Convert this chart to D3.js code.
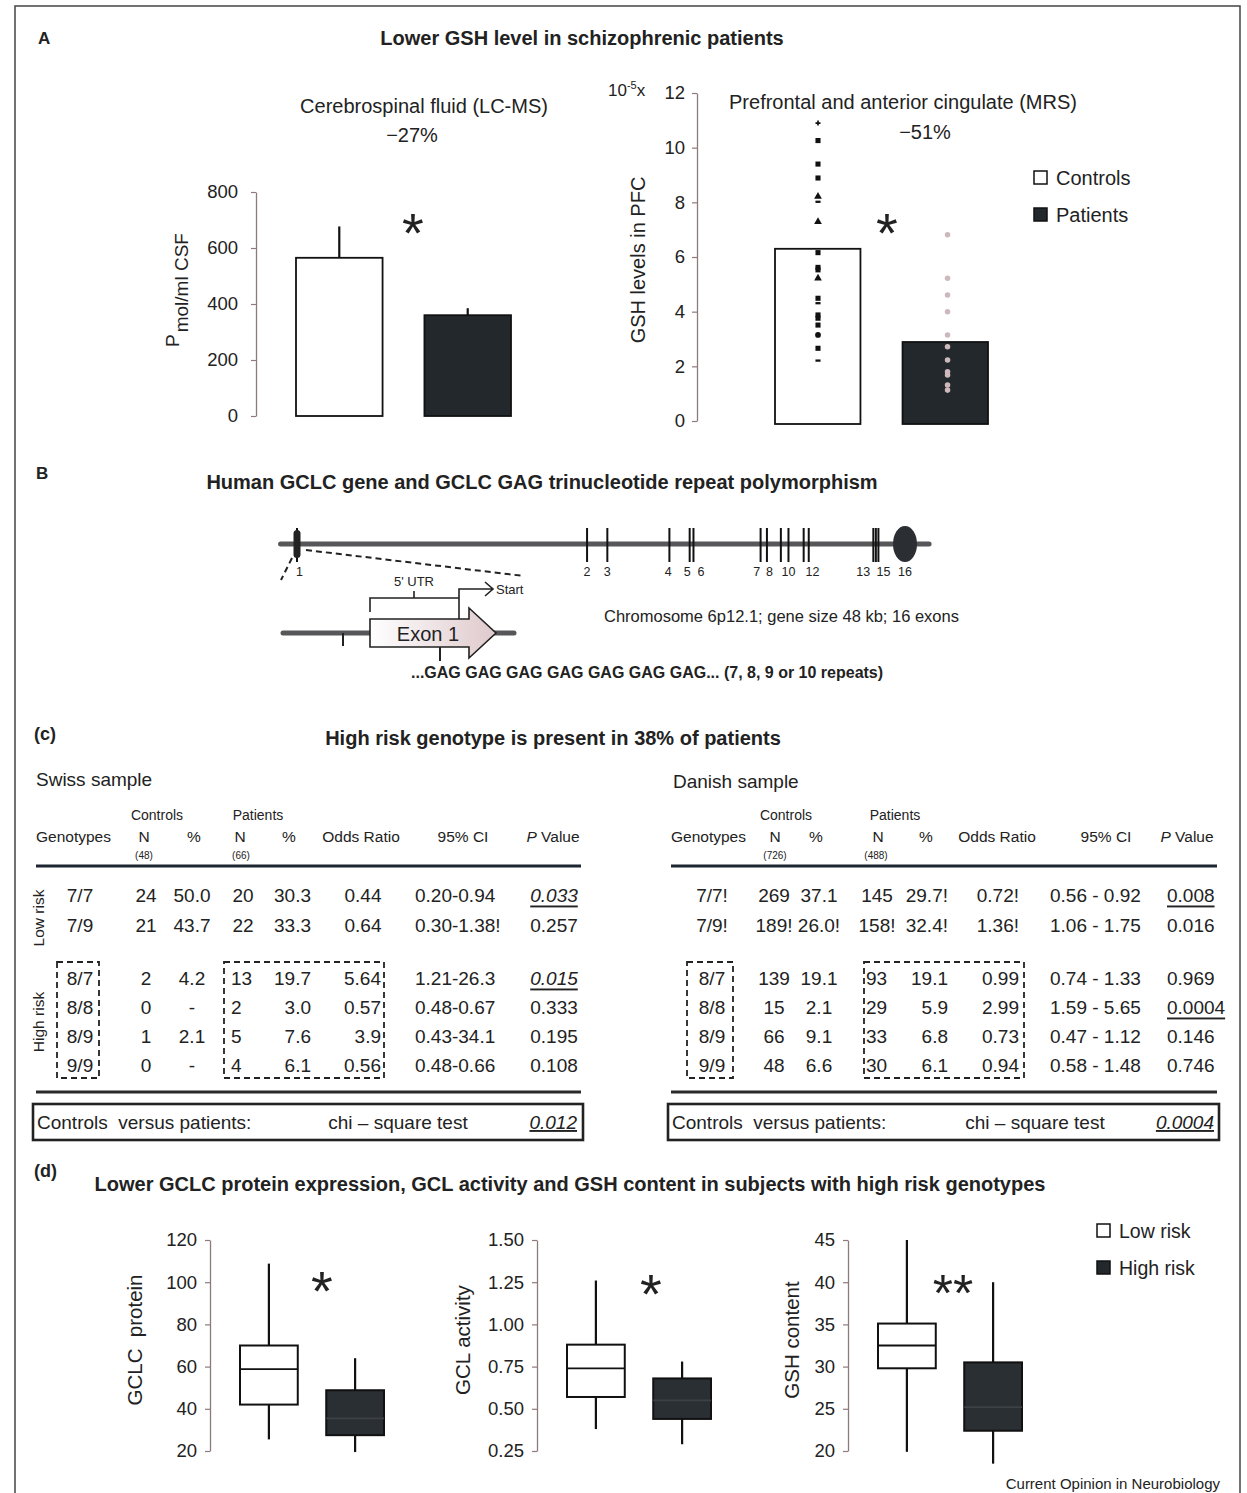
<!DOCTYPE html>
<html>
<head>
<meta charset="utf-8">
<script src="https://cdn.jsdelivr.net/npm/d3@7"></script>
<style>
  body { margin: 0; background: #fff; }
  svg { font-family: "Liberation Sans", Arial, sans-serif; }
  text { fill: #222; }
</style>
</head>
<body>
<div id="chart"></div>
<script>
// ---- panel A data ----
const groups = ['Controls', 'Patients'];
const csfMean = [565, 360];
const csfErrTop = [677, 385];
const csfTicks = [0, 200, 400, 600, 800];

const mrsMean = [6.3, 2.89];
const mrsTicks = [0, 2, 4, 6, 8, 10, 12];
const mrsControls = [10.9, 10.26, 9.4, 8.89, 8.21, 8.02, 7.29, 6.16, 5.62, 5.53, 5.22, 4.49, 4.31, 3.88, 3.76, 3.51, 3.15, 2.66, 2.21];
const mrsControlShapes = ['cross', 'sq', 'sq', 'sq', 'tri', 'dash', 'tri', 'sq', 'sq', 'sq', 'tri', 'sq', 'dash', 'sq', 'sq', 'sq', 'dot', 'sq', 'dash'];
const mrsPatients = [6.81, 5.22, 4.61, 4.0, 3.15, 2.72, 2.23, 1.8, 1.68, 1.32, 1.13];

// ---- panel B data (positions along gene, kb) ----
const exonKb = [0, 22.9, 24.5, 29.4, 31.0, 31.3, 36.6, 37.1, 38.2, 38.8, 40.0, 40.4, 45.5, 45.7, 45.9];
const exonLabels = ['1', '2', '3', '4', '5', '6', '7', '8', '10', '12', '13', '15', '16'];
const exonLabelKb = [0.2, 22.9, 24.5, 29.3, 30.8, 31.9, 36.3, 37.3, 38.8, 40.7, 44.7, 46.3, 48];
const lastExonKb = 48;

// ---- panel C data ----
const swissGeno = ['7/7', '7/9', '8/7', '8/8', '8/9', '9/9'];
const swissCtrlN = ['24', '21', '2', '0', '1', '0'];
const swissCtrlPct = ['50.0', '43.7', '4.2', '-', '2.1', '-'];
const swissPatN = ['20', '22', '13', '2', '5', '4'];
const swissPatPct = ['30.3', '33.3', '19.7', '3.0', '7.6', '6.1'];
const swissOR = ['0.44', '0.64', '5.64', '0.57', '3.9', '0.56'];
const swissCI = ['0.20-0.94', '0.30-1.38!', '1.21-26.3', '0.48-0.67', '0.43-34.1', '0.48-0.66'];
const swissP = ['0.033', '0.257', '0.015', '0.333', '0.195', '0.108'];
const swissSig = [true, false, true, false, false, false];

const danishGeno = ['7/7!', '7/9!', '8/7', '8/8', '8/9', '9/9'];
const danishCtrlN = ['269', '189!', '139', '15', '66', '48'];
const danishCtrlPct = ['37.1', '26.0!', '19.1', '2.1', '9.1', '6.6'];
const danishPatN = ['145', '158!', '93', '29', '33', '30'];
const danishPatPct = ['29.7!', '32.4!', '19.1', '5.9', '6.8', '6.1'];
const danishOR = ['0.72!', '1.36!', '0.99', '2.99', '0.73', '0.94'];
const danishCI = ['0.56 - 0.92', '1.06 - 1.75', '0.74 - 1.33', '1.59 - 5.65', '0.47 - 1.12', '0.58 - 1.48'];
const danishP = ['0.008', '0.016', '0.969', '0.0004', '0.146', '0.746'];
const danishSig = [true, false, false, true, false, false];

// ---- panel D data: [min, q1, median, q3, max] ----
const riskGroups = ['Low risk', 'High risk'];
const gclcProtein = [[25.5, 42, 58.8, 70, 108.8], [19.5, 27.5, 35.5, 48.8, 64]];
const gclActivity = [[0.38, 0.57, 0.74, 0.88, 1.26], [0.29, 0.44, 0.55, 0.68, 0.78]];
const gshContent = [[19.9, 29.8, 32.5, 35.1, 45], [18.5, 22.4, 25.2, 30.5, 40]];

const W = 1247, H = 1493;
const axisColor = '#8e7a7c';
const dark = '#23282c';

const svg = d3.select('#chart').append('svg')
    .attr('width', W)
    .attr('height', H);

svg.append('rect')
    .attr('x', 15).attr('y', 6)
    .attr('width', 1225).attr('height', 1520)
    .attr('fill', 'none')
    .attr('stroke', '#444')
    .attr('stroke-width', 1.5);

function txt(g, x, y, s, attrs) {
    const t = g.append('text').attr('x', x).attr('y', y).text(s);
    for (const k in (attrs || {})) t.attr(k, attrs[k]);
    return t;
}

function leftAxis(g, x, scale, ticks, fmt, pad, size) {
    const ax = g.append('g')
        .attr('transform', `translate(${x},0)`)
        .call(d3.axisLeft(scale).tickValues(ticks).tickFormat(fmt)
            .tickSize(5).tickSizeOuter(0).tickPadding(pad));
    ax.attr('font-family', null).attr('font-size', size || 18.5);
    ax.select('.domain').attr('stroke', axisColor).attr('stroke-width', 1.3);
    ax.selectAll('.tick line').attr('stroke', axisColor).attr('stroke-width', 1.2);
    ax.selectAll('.tick text').attr('fill', '#222');
    return ax;
}

function asterisk(g, x, y, s, size) {
    size = size || 56;
    txt(g, x, y + 0.57 * size, s, { 'font-size': size, 'text-anchor': 'middle', fill: '#111' });
}

function rotLabel(g, x, y, s, size) {
    return txt(g, 0, 0, s, {
        'font-size': size || 18, 'text-anchor': 'middle',
        transform: `translate(${x},${y}) rotate(-90)`
    });
}

// ================= Panel A =================
const A = svg.append('g');
txt(A, 38, 44, 'A', { 'font-size': 17, 'font-weight': 'bold' });
txt(A, 582, 45, 'Lower GSH level in schizophrenic patients', { 'font-size': 20, 'font-weight': 'bold', 'text-anchor': 'middle' });

// CSF bar chart
const yCsf = d3.scaleLinear().domain([0, 800]).range([416, 192]);
const xCsf = d3.scaleBand().domain(groups).range([296, 511]).paddingInner(0.326);
leftAxis(A, 256, yCsf, csfTicks, d3.format('d'), 13);
txt(A, 424, 113, 'Cerebrospinal fluid (LC-MS)', { 'font-size': 20, 'text-anchor': 'middle', fill: '#333' });
txt(A, 412, 142, '\u221227%', { 'font-size': 20, 'text-anchor': 'middle', fill: '#333' });
const csfLab = txt(A, 0, 0, 'P', { 'font-size': 19, transform: 'translate(179,347) rotate(-90)' });
csfLab.append('tspan').attr('dy', 9).attr('dx', 2).text('mol/ml CSF');

A.selectAll('.csfErr').data(groups).join('line')
    .attr('x1', d => xCsf(d) + xCsf.bandwidth() / 2)
    .attr('x2', d => xCsf(d) + xCsf.bandwidth() / 2)
    .attr('y1', (d, i) => yCsf(csfMean[i]))
    .attr('y2', (d, i) => yCsf(csfErrTop[i]))
    .attr('stroke', '#111').attr('stroke-width', 2.2);
A.selectAll('.csfBar').data(groups).join('rect')
    .attr('x', d => xCsf(d))
    .attr('width', xCsf.bandwidth())
    .attr('y', (d, i) => yCsf(csfMean[i]))
    .attr('height', (d, i) => yCsf(0) - yCsf(csfMean[i]))
    .attr('fill', (d, i) => i ? dark : '#fff')
    .attr('stroke', '#111').attr('stroke-width', 1.8);
asterisk(A, 413, 220, '*');

// MRS bar chart
const yMrs = d3.scaleLinear().domain([0, 12]).range([421, 93]);
const xMrs = d3.scaleBand().domain(groups).range([775, 988]).paddingInner(0.33);
leftAxis(A, 697, yMrs, mrsTicks, d3.format('d'), 7);
const pre = txt(A, 608, 96, '10', { 'font-size': 17 });
pre.append('tspan').attr('font-size', 11).attr('dy', -7).text('-5');
pre.append('tspan').attr('dy', 7).text('x');
rotLabel(A, 645, 260, 'GSH levels in PFC', 20);
txt(A, 903, 109, 'Prefrontal and anterior cingulate (MRS)', { 'font-size': 20, 'text-anchor': 'middle', fill: '#333' });
txt(A, 925, 139, '\u221251%', { 'font-size': 20, 'text-anchor': 'middle', fill: '#333' });

A.selectAll('.mrsBar').data(groups).join('rect')
    .attr('x', d => xMrs(d))
    .attr('width', xMrs.bandwidth())
    .attr('y', (d, i) => yMrs(mrsMean[i]))
    .attr('height', (d, i) => yMrs(0) - yMrs(mrsMean[i]) + 3)
    .attr('fill', (d, i) => i ? dark : '#fff')
    .attr('stroke', '#111').attr('stroke-width', 1.8);

const symType = { sq: d3.symbolSquare, tri: d3.symbolTriangle, cross: d3.symbolCross, dot: d3.symbolCircle, dash: d3.symbolSquare };
const cx0 = xMrs('Controls') + 43;
A.selectAll('.ctrlDot').data(mrsControls).join('path')
    .attr('transform', (d, i) => `translate(${cx0},${yMrs(d)})` + (mrsControlShapes[i] === 'dash' ? ' scale(1,0.45)' : ''))
    .attr('d', (d, i) => d3.symbol(symType[mrsControlShapes[i]], mrsControlShapes[i] === 'cross' ? 14 : 26)())
    .attr('fill', '#111');
const px0 = xMrs('Patients') + 45;
A.selectAll('.patDot').data(mrsPatients).join('path')
    .attr('transform', d => `translate(${px0},${yMrs(d)})`)
    .attr('d', d3.symbol(d3.symbolCircle, 24))
    .attr('fill', '#cdb9bc');
asterisk(A, 887, 220, '*');

// legend A
const legA = A.append('g');
legA.selectAll('rect').data(groups).join('rect')
    .attr('x', 1034).attr('y', (d, i) => 171 + i * 37)
    .attr('width', 13).attr('height', 13)
    .attr('fill', (d, i) => i ? dark : '#fff')
    .attr('stroke', '#111').attr('stroke-width', 1.5);
legA.selectAll('text').data(groups).join('text')
    .attr('x', 1056).attr('y', (d, i) => 185 + i * 37)
    .attr('font-size', 20).text(d => d);

// ================= Panel B =================
const B = svg.append('g');
txt(B, 36, 479, 'B', { 'font-size': 17, 'font-weight': 'bold' });
txt(B, 542, 489, 'Human GCLC gene and GCLC GAG trinucleotide repeat polymorphism', { 'font-size': 20, 'font-weight': 'bold', 'text-anchor': 'middle' });

const xGene = d3.scaleLinear().domain([0, 48]).range([297, 905]);
const geneY = 544;
B.append('line')
    .attr('x1', xGene(-1.3)).attr('x2', xGene(49.9))
    .attr('y1', geneY).attr('y2', geneY)
    .attr('stroke', '#57575a').attr('stroke-width', 5).attr('stroke-linecap', 'round');
B.selectAll('.exon').data(exonKb).join('line')
    .attr('x1', d => xGene(d)).attr('x2', d => xGene(d))
    .attr('y1', 528).attr('y2', 562)
    .attr('stroke', '#111').attr('stroke-width', 2);
B.append('rect')
    .attr('x', xGene(0) - 3.5).attr('y', 530)
    .attr('width', 7).attr('height', 28).attr('rx', 3.5)
    .attr('fill', '#222');
B.append('ellipse')
    .attr('cx', xGene(lastExonKb)).attr('cy', geneY)
    .attr('rx', 12).attr('ry', 18)
    .attr('fill', '#2b2f33');
B.selectAll('.exLab').data(exonLabels).join('text')
    .attr('x', (d, i) => xGene(exonLabelKb[i]))
    .attr('y', 576)
    .attr('font-size', 12.5).attr('text-anchor', 'middle')
    .text(d => d);

// zoom-in on exon 1
B.append('line').attr('x1', 292).attr('y1', 558).attr('x2', 281).attr('y2', 580)
    .attr('stroke', '#222').attr('stroke-width', 2).attr('stroke-dasharray', '6,4');
B.append('line').attr('x1', 306).attr('y1', 550).attr('x2', 524).attr('y2', 576)
    .attr('stroke', '#222').attr('stroke-width', 2).attr('stroke-dasharray', '6,4');
B.append('line').attr('x1', 283).attr('x2', 514).attr('y1', 633).attr('y2', 633)
    .attr('stroke', '#57575a').attr('stroke-width', 5).attr('stroke-linecap', 'round');
B.append('line').attr('x1', 343).attr('x2', 343).attr('y1', 633).attr('y2', 646)
    .attr('stroke', '#222').attr('stroke-width', 2);
const grad = svg.append('defs').append('linearGradient').attr('id', 'exg');
grad.append('stop').attr('offset', '0%').attr('stop-color', '#ffffff');
grad.append('stop').attr('offset', '100%').attr('stop-color', '#dfc9cc');
B.append('path')
    .attr('d', 'M370,619 L469,619 L469,608 L496,633 L469,658 L469,647 L370,647 Z')
    .attr('fill', 'url(#exg)').attr('stroke', '#222').attr('stroke-width', 1.6);
txt(B, 428, 641, 'Exon 1', { 'font-size': 20, 'text-anchor': 'middle', fill: '#333' });
B.append('line').attr('x1', 440).attr('x2', 440).attr('y1', 647).attr('y2', 661)
    .attr('stroke', '#222').attr('stroke-width', 2);
B.append('path')
    .attr('d', 'M370,612 L370,598 L459,598 M414,598 L414,591 M459,619 L459,589 L492,589 M485,582 L493,589 L485,596')
    .attr('fill', 'none').attr('stroke', '#222').attr('stroke-width', 1.6);
txt(B, 414, 586, "5' UTR", { 'font-size': 13, 'text-anchor': 'middle' });
txt(B, 496, 594, 'Start', { 'font-size': 13 });
txt(B, 604, 622, 'Chromosome 6p12.1; gene size 48 kb; 16 exons', { 'font-size': 16.5, fill: '#a99c9e' });
txt(B, 411, 678, '...GAG GAG GAG GAG GAG GAG GAG... (7, 8, 9 or 10 repeats)', { 'font-size': 16, 'font-weight': 'bold', fill: '#2a2a2a' });

// ================= Panel C =================
const C = svg.append('g');
txt(C, 34, 740, '(c)', { 'font-size': 18, 'font-weight': 'bold' });
txt(C, 553, 745, 'High risk genotype is present in 38% of patients', { 'font-size': 20, 'font-weight': 'bold', 'text-anchor': 'middle' });

const rowY = [895, 925, 978, 1007, 1036, 1065];
const cellSize = 19;

function drawTable(o) {
    const g = C.append('g');
    txt(g, o.title[0], o.title[2], o.title[1], { 'font-size': 19 });
    txt(g, o.hCtrl, 820, 'Controls', { 'font-size': 14, 'text-anchor': 'middle' });
    txt(g, o.hPat, 820, 'Patients', { 'font-size': 14, 'text-anchor': 'middle' });
    txt(g, o.x0, 842, 'Genotypes', { 'font-size': 15.5 });
    o.heads.forEach(h => {
        const t = txt(g, h[0], 842, h[1], { 'font-size': 15.5, 'text-anchor': 'middle' });
        if (h[2]) {
            t.text(null);
            t.append('tspan').attr('font-style', 'italic').text('P');
            t.append('tspan').text(' Value');
        }
    });
    o.counts.forEach(c => txt(g, c[0], 859, c[1], { 'font-size': 10, 'text-anchor': 'middle', fill: '#b0a8a8' }));
    g.append('line').attr('x1', o.x0).attr('x2', o.x1).attr('y1', 866).attr('y2', 866)
        .attr('stroke', '#1d2530').attr('stroke-width', 3.2);
    g.append('line').attr('x1', o.x0).attr('x2', o.x1).attr('y1', 1092).attr('y2', 1092)
        .attr('stroke', '#2a2a2a').attr('stroke-width', 3);
    o.cols.forEach(col => {
        g.selectAll(null).data(col.values).join('text')
            .attr('x', (d, i) => i >= 2 && col.hx !== undefined ? col.hx : col.x)
            .attr('y', (d, i) => rowY[i])
            .attr('dominant-baseline', 'central')
            .attr('font-size', cellSize)
            .attr('text-anchor', (d, i) => i >= 2 && col.ha ? col.ha : col.a)
            .attr('font-style', (d, i) => col.sig && col.sig[i] && o.italicSig ? 'italic' : null)
            .attr('text-decoration', (d, i) => col.sig && col.sig[i] ? 'underline' : null)
            .text(d => d);
    });
    o.boxes.forEach(b => g.append('rect')
        .attr('x', b[0]).attr('y', 962).attr('width', b[1] - b[0]).attr('height', 116)
        .attr('fill', 'none').attr('stroke', '#222').attr('stroke-width', 1.8)
        .attr('stroke-dasharray', '6,4'));
    g.append('rect').attr('x', o.x0 - 3).attr('y', 1104).attr('width', o.x1 - o.x0 + 5).attr('height', 36)
        .attr('fill', 'none').attr('stroke', '#222').attr('stroke-width', 2.6);
    txt(g, o.x0 + 1, 1129, 'Controls\u00a0 versus patients:', { 'font-size': cellSize });
    txt(g, o.chiX, 1129, 'chi \u2013 square test', { 'font-size': cellSize, 'text-anchor': 'middle' });
    txt(g, o.chiPX, 1129, o.chiP, { 'font-size': cellSize, 'text-anchor': 'end', 'font-style': 'italic', 'text-decoration': 'underline' });
    return g;
}

const sw = drawTable({
    title: [36, 'Swiss sample', 786], x0: 36, x1: 581, hCtrl: 157, hPat: 258,
    heads: [[144, 'N'], [194, '%'], [240, 'N'], [289, '%'], [361, 'Odds Ratio'], [463, '95% CI'], [553, '', true]],
    counts: [[144, '(48)'], [241, '(66)']],
    italicSig: true,
    cols: [
        { values: swissGeno, x: 80, a: 'middle' },
        { values: swissCtrlN, x: 146, a: 'middle' },
        { values: swissCtrlPct, x: 192, a: 'middle' },
        { values: swissPatN, x: 243, a: 'middle', hx: 231, ha: 'start' },
        { values: swissPatPct, x: 311, a: 'end' },
        { values: swissOR, x: 363, a: 'middle', hx: 381, ha: 'end' },
        { values: swissCI, x: 415, a: 'start' },
        { values: swissP, x: 554, a: 'middle', sig: swissSig }
    ],
    boxes: [[57, 99], [224, 384]],
    chiX: 398, chiPX: 577, chiP: '0.012'
});
rotLabel(sw, 44, 918, 'Low risk', 15.5);
rotLabel(sw, 44, 1022, 'High risk', 15.5);

drawTable({
    title: [673, 'Danish sample', 788], x0: 671, x1: 1217, hCtrl: 786, hPat: 895,
    heads: [[775, 'N'], [816, '%'], [878, 'N'], [926, '%'], [997, 'Odds Ratio'], [1106, '95% CI'], [1187, '', true]],
    counts: [[775, '(726)'], [876, '(488)']],
    italicSig: false,
    cols: [
        { values: danishGeno, x: 712, a: 'middle' },
        { values: danishCtrlN, x: 774, a: 'middle' },
        { values: danishCtrlPct, x: 819, a: 'middle' },
        { values: danishPatN, x: 877, a: 'middle', hx: 866, ha: 'start' },
        { values: danishPatPct, x: 948, a: 'end' },
        { values: danishOR, x: 1019, a: 'end' },
        { values: danishCI, x: 1050, a: 'start' },
        { values: danishP, x: 1167, a: 'start', sig: danishSig }
    ],
    boxes: [[687, 733], [864, 1024]],
    chiX: 1035, chiPX: 1214, chiP: '0.0004'
});

// ================= Panel D =================
const D = svg.append('g');
txt(D, 34, 1177, '(d)', { 'font-size': 18, 'font-weight': 'bold' });
txt(D, 570, 1191, 'Lower GCLC protein expression, GCL activity and GSH content in subjects with high risk genotypes', { 'font-size': 20, 'font-weight': 'bold', 'text-anchor': 'middle' });

function boxChart(axisX, data, domain, ticks, fmt, label, labelX) {
    const g = D.append('g');
    const y = d3.scaleLinear().domain(domain).range([1451, 1240]);
    const x = d3.scaleBand().domain(riskGroups).range([axisX + 30, axisX + 174]).paddingInner(0.33);
    leftAxis(g, axisX, y, ticks, fmt, 8);
    rotLabel(g, labelX, 1340, label, 20.5);
    const b = g.selectAll('.box').data(riskGroups).join('g');
    b.append('line')
        .attr('x1', d => x(d) + x.bandwidth() / 2).attr('x2', d => x(d) + x.bandwidth() / 2)
        .attr('y1', (d, i) => y(data[i][0])).attr('y2', (d, i) => y(data[i][4]))
        .attr('stroke', '#111').attr('stroke-width', 2.2);
    b.append('rect')
        .attr('x', d => x(d)).attr('width', x.bandwidth())
        .attr('y', (d, i) => y(data[i][3]))
        .attr('height', (d, i) => y(data[i][1]) - y(data[i][3]))
        .attr('fill', (d, i) => i ? '#2a2f33' : '#fff')
        .attr('stroke', '#111').attr('stroke-width', 2);
    b.append('line')
        .attr('x1', d => x(d)).attr('x2', d => x(d) + x.bandwidth())
        .attr('y1', (d, i) => y(data[i][2])).attr('y2', (d, i) => y(data[i][2]))
        .attr('stroke', (d, i) => i ? '#3c4144' : '#111').attr('stroke-width', 1.8);
    return g;
}

boxChart(210, gclcProtein, [20, 120], [20, 40, 60, 80, 100, 120], d3.format('d'), 'GCLC\u00a0\u00a0protein', 142);
boxChart(537, gclActivity, [0.25, 1.5], [0.25, 0.5, 0.75, 1.0, 1.25, 1.5], d3.format('.2f'), 'GCL activity', 470);
boxChart(848, gshContent, [20, 45], [20, 25, 30, 35, 40, 45], d3.format('d'), 'GSH content', 799);
asterisk(D, 322, 1278, '*');
asterisk(D, 651, 1281, '*');
asterisk(D, 953, 1281, '**', 52);

const legD = D.append('g');
legD.selectAll('rect').data(riskGroups).join('rect')
    .attr('x', 1097).attr('y', (d, i) => 1224 + i * 37)
    .attr('width', 13).attr('height', 13)
    .attr('fill', (d, i) => i ? dark : '#fff')
    .attr('stroke', '#111').attr('stroke-width', 1.5);
legD.selectAll('text').data(riskGroups).join('text')
    .attr('x', 1119).attr('y', (d, i) => 1238 + i * 37)
    .attr('font-size', 19.5).text(d => d);

txt(D, 1220, 1489, 'Current Opinion in Neurobiology', { 'font-size': 15, 'text-anchor': 'end' });
</script>
</body>
</html>
